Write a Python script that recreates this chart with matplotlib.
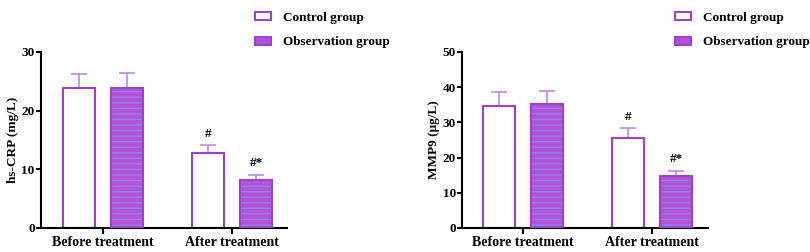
import matplotlib
matplotlib.use("Agg")
import matplotlib.pyplot as plt
from matplotlib.patches import Patch
import numpy as np

plt.rcParams['font.family'] = ['Liberation Serif', 'DejaVu Serif']
plt.rcParams['font.weight'] = 'bold'
plt.rcParams['hatch.linewidth'] = 1.0

groups = ["Before treatment", "After treatment"]
series = ["Control group", "Observation group"]

crp_control = [23.8, 12.7]
crp_control_err = [2.5, 1.4]
crp_obs = [23.8, 8.2]
crp_obs_err = [2.6, 0.9]

mmp_control = [34.8, 25.7]
mmp_control_err = [3.8, 2.6]
mmp_obs = [35.1, 14.7]
mmp_obs_err = [3.7, 1.6]

crp_marks_control = ["", "#"]
crp_marks_obs = ["", "#*"]
mmp_marks_control = ["", "#"]
mmp_marks_obs = ["", "#*"]

EDGE = '#a040c8'
FILL = '#b650d8'
STRIPE = '#8a88e8'
ERR = '#c486e0'

fig = plt.figure(figsize=(8.1, 2.52), dpi=100)

def panel(rect, ctrl, ctrl_e, obs, obs_e, mc, mo, ylim, yticks, ylabel, xlim, off):
    ax = fig.add_axes(rect)
    x = np.arange(len(groups))
    w = 0.25
    ax.bar(x - off, ctrl, w, color='white', edgecolor=EDGE, linewidth=1.5, zorder=2)
    ax.bar(x + off, obs, w, color=FILL, edgecolor=STRIPE, linewidth=0, hatch='---', zorder=2)
    ax.bar(x + off, obs, w, color='none', edgecolor=EDGE, linewidth=1.5, zorder=3)
    ax.errorbar(x - off, ctrl, yerr=[np.zeros(len(ctrl)), ctrl_e], fmt='none',
                ecolor=ERR, elinewidth=1.2, capsize=5.5, capthick=1.2, zorder=1)
    ax.errorbar(x + off, obs, yerr=[np.zeros(len(obs)), obs_e], fmt='none',
                ecolor=ERR, elinewidth=1.2, capsize=5.5, capthick=1.2, zorder=1)
    pad = (ylim[1] - ylim[0]) * 0.03
    for i in range(len(groups)):
        if mc[i]:
            ax.text(x[i] - off, ctrl[i] + ctrl_e[i] + pad, mc[i], ha='center', va='bottom',
                    fontsize=9.5, fontweight='bold')
        if mo[i]:
            ax.text(x[i] + off, obs[i] + obs_e[i] + pad, mo[i], ha='center', va='bottom',
                    fontsize=9.5, fontweight='bold')
    ax.set_xlim(*xlim)
    ax.set_ylim(*ylim)
    ax.set_yticks(yticks)
    ax.set_xticks(x)
    ax.set_xticklabels(groups, fontsize=10, fontweight='bold')
    ax.tick_params(axis='y', labelsize=9.5, width=1.5, length=3.5, direction='out', pad=1)
    ax.tick_params(axis='x', width=1.5, length=4, direction='out', pad=1.5)
    for lab in ax.get_yticklabels():
        lab.set_fontweight('bold')
    ax.set_ylabel(ylabel, fontsize=9.5, fontweight='bold', labelpad=2)
    for s in ['top', 'right']:
        ax.spines[s].set_visible(False)
    for s in ['left', 'bottom']:
        ax.spines[s].set_linewidth(1.5)
    return ax

ax1 = panel([41/810, 24/252, 246/810, 176/252], crp_control, crp_control_err, crp_obs, crp_obs_err,
            crp_marks_control, crp_marks_obs, (0, 30), [0, 10, 20, 30], 'hs-CRP (mg/L)',
            (-0.48, 1.426), 0.186)
ax2 = panel([462/810, 24/252, 246/810, 176/252], mmp_control, mmp_control_err, mmp_obs, mmp_obs_err,
            mmp_marks_control, mmp_marks_obs, (0, 50), [0, 10, 20, 30, 40, 50], 'MMP9 (μg/L)',
            (-0.473, 1.434), 0.186)

handles = [Patch(facecolor='white', edgecolor=EDGE, linewidth=1.5),
           Patch(facecolor=FILL, edgecolor=EDGE, linewidth=1.5)]
for xa in [251/810, 671/810]:
    fig.legend(handles, series, loc='upper left', bbox_to_anchor=(xa, 1.0 - 8/252), frameon=False,
               prop={'weight': 'bold', 'size': 9.5}, handlelength=1.2,
               handleheight=0.6, handletextpad=0.95, labelspacing=0.95, borderaxespad=0.0,
               borderpad=0.3)

fig.savefig('out.png', dpi=100)
